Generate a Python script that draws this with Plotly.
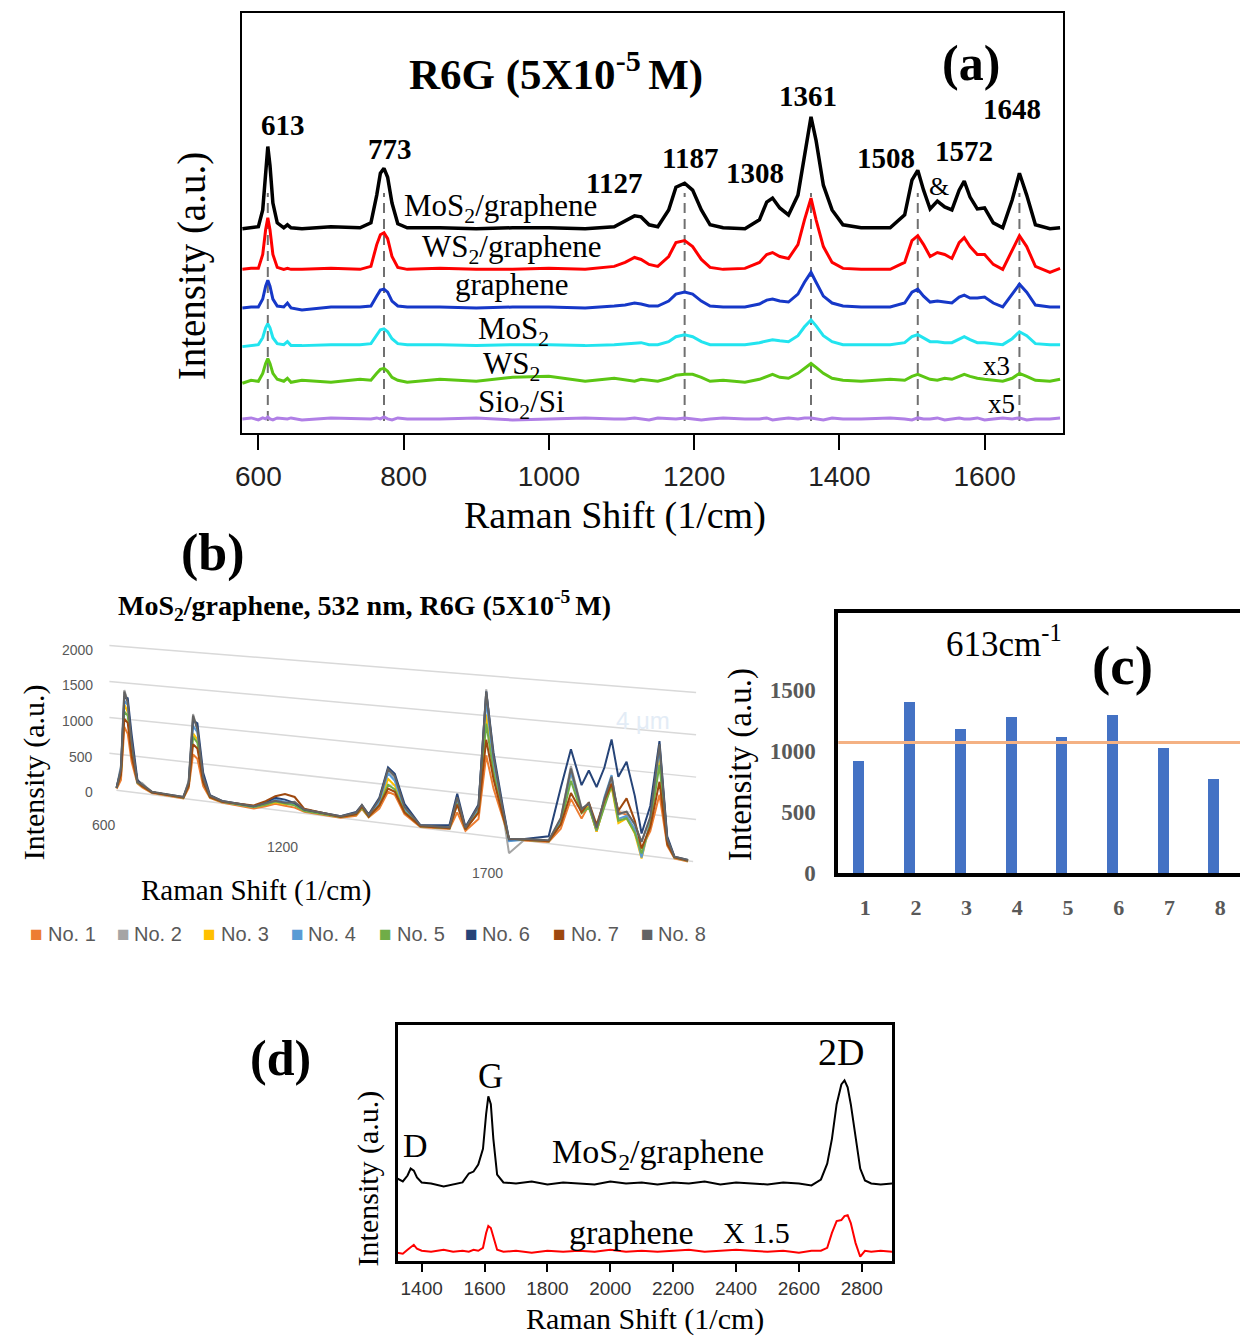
import plotly.graph_objects as go

W, H = 1240, 1343
SERIF = "Liberation Serif, Times New Roman, serif"
SANS = "Liberation Sans, Arial, sans-serif"

# ---------------- Panel (a): R6G spectra on different substrates ----------------
xa = [578, 590, 600, 606, 610, 613, 616, 620, 626, 635, 640, 645, 660, 700, 740,
      755, 763, 768, 773, 778, 784, 792, 805, 850, 900, 950, 1000, 1050, 1090, 1105,
      1118, 1127, 1138, 1150, 1165, 1175, 1187, 1198, 1210, 1222, 1240, 1270, 1290, 1300, 1308,
      1318, 1330, 1343, 1352, 1361, 1368, 1378, 1390, 1405, 1430, 1470, 1490, 1500, 1508, 1516,
      1525, 1535, 1545, 1555, 1565, 1572, 1580, 1590, 1600, 1612, 1625, 1638, 1648, 1658, 1670,
      1690, 1704]
a_mos2_graphene = [206, 207, 208, 225, 260, 289, 270, 232, 212, 207, 210, 207, 206, 208, 207,
                   212, 240, 262, 267, 258, 232, 211, 207, 207, 206, 207, 207, 206, 208, 214,
                   219, 218, 210, 208, 225, 248, 252, 245, 225, 210, 207, 206, 215, 233, 237,
                   227, 220, 240, 280, 319, 295, 250, 225, 210, 207, 207, 220, 255, 265, 245,
                   226, 234, 228, 225, 245, 254, 238, 226, 227, 212, 207, 235, 262, 240, 210,
                   206, 207]
a_ws2_graphene = [165, 166, 166, 180, 205, 217, 205, 180, 167, 165, 166, 165, 165, 166, 165,
                  168, 190, 200, 202, 196, 178, 167, 165, 166, 165, 165, 166, 165, 168, 172,
                  177, 175, 170, 168, 178, 192, 194, 188, 175, 167, 165, 166, 172, 180, 182,
                  178, 176, 190, 215, 237, 215, 188, 172, 166, 165, 165, 172, 194, 199, 190,
                  178, 182, 180, 176, 192, 197, 188, 180, 180, 170, 165, 185, 199, 188, 168,
                  162, 166]
a_graphene = [126, 127, 127, 135, 148, 154, 148, 135, 128, 127, 131, 126, 124, 127, 127,
              128, 138, 144, 145, 142, 133, 128, 127, 127, 126, 127, 127, 126, 128, 129,
              131, 130, 128, 128, 133, 140, 142, 140, 133, 128, 127, 127, 130, 134, 135,
              133, 132, 140, 152, 162, 152, 138, 131, 128, 127, 127, 131, 142, 145, 138,
              132, 133, 132, 131, 137, 139, 136, 136, 137, 131, 127, 140, 150, 142, 129,
              127, 127]
a_mos2 = [87, 88, 89, 96, 106, 110, 106, 96, 90, 89, 92, 88, 88, 89, 89,
          90, 99, 104, 105, 102, 95, 90, 89, 89, 88, 89, 89, 88, 89, 90,
          91, 91, 89, 89, 92, 97, 99, 97, 92, 89, 89, 89, 91, 93, 94,
          93, 92, 98, 107, 114, 108, 98, 92, 89, 89, 89, 91, 97, 99, 96,
          92, 92, 91, 91, 95, 97, 94, 91, 91, 90, 89, 95, 102, 98, 90,
          89, 89]
a_ws2 = [50, 53, 52, 60, 70, 75, 70, 60, 54, 52, 55, 51, 53, 51, 54,
         53, 60, 64, 65, 62, 56, 53, 51, 54, 52, 56, 57, 52, 55, 53,
         52, 54, 53, 52, 55, 58, 59, 59, 56, 52, 53, 51, 54, 57, 59,
         56, 55, 60, 65, 70, 66, 60, 55, 53, 52, 54, 53, 57, 59, 57,
         54, 53, 55, 54, 57, 59, 57, 55, 54, 53, 52, 55, 60, 57, 53,
         52, 54]
a_sio2 = [14, 15, 13, 15, 14, 16, 14, 13, 15, 14, 14, 15, 13, 15, 14,
          14, 15, 14, 16, 14, 13, 15, 14, 14, 15, 13, 14, 15, 14, 14,
          15, 14, 13, 15, 14, 14, 15, 14, 13, 14, 15, 14, 14, 15, 13,
          14, 15, 14, 15, 15, 14, 13, 15, 14, 14, 15, 14, 13, 15, 14,
          14, 15, 13, 14, 15, 14, 14, 15, 13, 14, 15, 14, 15, 13, 14,
          14, 15]
a_colors = ["#b07fe6", "#5cc614", "#22e4ef", "#1638c8", "#ff0000", "#000000"]
a_widths = [3, 3, 3, 3, 3, 3.5]
a_series = [a_sio2, a_ws2, a_mos2, a_graphene, a_ws2_graphene, a_mos2_graphene]
a_dashed_peaks = [613, 773, 1187, 1361, 1508, 1648]
a_peak_labels = ["613", "773", "1127", "1187", "1308", "1361", "1508", "1572", "1648"]
a_ticks = [600, 800, 1000, 1200, 1400, 1600]

# ---------------- Panel (b): eight spots on MoS2/graphene ----------------
xb = [597, 606, 613, 620, 628, 640, 650, 670,
      735, 746, 755, 764, 776, 790, 815,
      880, 905, 925, 945, 965, 985,
      1060, 1092, 1104, 1118, 1140, 1158, 1172, 1192, 1225,
      1285, 1301, 1318, 1345, 1361, 1376, 1395, 1408, 1440,
      1490, 1515, 1536, 1558, 1573, 1589, 1605, 1620, 1634, 1651, 1668, 1682,
      1700, 1719, 1735, 1750, 1778]
b_no1 = [20, 150, 890, 800, 420, 130, 80, 20,
         0, 150, 613, 560, 200, 50, 10,
         -20, 30, 80, 70, 60, 20,
         0, 50, 150, 50, 180, 409, 380, 150, 10,
         30, 250, 30, 200, 1004, 600, 250, 0, 0,
         20, 200, 579, 353, 526, 214, 560, 817, 487, 463, 250, 78,
         300, 746, 150, 10, -10]
b_no2 = [30, 350, 1400, 1250, 650, 160, 140, 30,
         10, 250, 1160, 950, 300, 70, 20,
         0, 60, 110, 90, 140, 40,
         10, 80, 190, 70, 280, 680, 600, 220, 20,
         50, 430, 60, 350, 1830, 950, 330, -180, 10,
         30, 320, 980, 480, 520, 250, 600, 880, 450, 500, 350, 160,
         450, 1320, 220, 20, 0]
b_no3 = [30, 250, 1200, 1100, 600, 170, 100, 30,
         10, 200, 900, 820, 280, 60, 20,
         0, 50, 100, 90, 110, 40,
         10, 70, 170, 60, 230, 576, 500, 190, 20,
         40, 380, 50, 300, 1515, 850, 300, -20, 10,
         30, 280, 902, 430, 526, 214, 560, 780, 350, 420, 250, -42,
         400, 1205, 200, 20, 0]
b_no4 = [30, 320, 1250, 1200, 650, 140, 120, 30,
         10, 220, 1000, 920, 300, 70, 20,
         0, 60, 140, 120, 100, 40,
         10, 80, 180, 70, 260, 650, 560, 210, 20,
         40, 420, 50, 330, 1700, 900, 330, -30, 10,
         30, 300, 900, 450, 550, 230, 640, 921, 400, 450, 300, -30,
         420, 1300, 200, 20, 0]
b_no5 = [30, 230, 1100, 1050, 550, 140, 100, 30,
         10, 180, 850, 780, 260, 60, 20,
         0, 50, 110, 100, 90, 30,
         10, 70, 160, 60, 220, 500, 450, 180, 20,
         40, 360, 50, 290, 1400, 800, 290, 0, 10,
         30, 260, 800, 420, 500, 230, 540, 800, 380, 420, 260, 20,
         380, 1100, 180, 20, 0]
b_no6 = [40, 280, 1300, 1290, 800, 180, 110, 30,
         20, 200, 1076, 1040, 380, 90, 30,
         10, 80, 160, 150, 120, 50,
         20, 100, 200, 90, 320, 724, 650, 280, 30,
         80, 484, 80, 380, 1800, 1050, 400, -10, 20,
         90, 700, 1184, 760, 948, 756, 1000, 1351, 908, 1100, 700, 258,
         600, 1384, 260, 30, 10]
b_no7 = [30, 220, 1000, 950, 500, 150, 100, 30,
         10, 180, 750, 700, 250, 60, 20,
         20, 100, 180, 223, 200, 60,
         10, 70, 180, 60, 220, 450, 420, 170, 20,
         40, 350, 50, 280, 1200, 720, 280, 0, 10,
         30, 250, 650, 430, 560, 300, 600, 817, 500, 660, 400, 80,
         350, 900, 170, 20, 0]
b_no8 = [30, 300, 1380, 1230, 700, 150, 120, 40,
         20, 230, 1140, 960, 320, 80, 30,
         10, 70, 120, 110, 130, 50,
         20, 90, 200, 80, 300, 700, 620, 240, 30,
         50, 440, 70, 360, 1800, 1000, 360, 0, 20,
         40, 330, 950, 470, 550, 260, 620, 900, 460, 500, 360, 158,
         470, 1350, 230, 30, 10]
b_names = ["No. 1", "No. 2", "No. 3", "No. 4", "No. 5", "No. 6", "No. 7", "No. 8"]
b_colors = ["#ED7D31", "#A5A5A5", "#FFC000", "#5B9BD5", "#70AD47", "#264478", "#9E480E", "#636363"]
b_series = [b_no1, b_no2, b_no3, b_no4, b_no5, b_no6, b_no7, b_no8]
b_grid_values = [0, 500, 1000, 1500, 2000]
b_ytick_labels = ["0", "500", "1000", "1500", "2000"]
b_xtick_labels = ["600", "1200", "1700"]

# ---------------- Panel (c): 613 cm-1 intensity per spot ----------------
c_spots = [1, 2, 3, 4, 5, 6, 7, 8]
c_intensity = [919, 1397, 1181, 1276, 1114, 1289, 1019, 770]
c_mean_line = 1068

# ---------------- Panel (d): graphene bands ----------------
xd = [1322, 1340, 1355, 1365, 1375, 1385, 1400, 1430, 1470, 1500, 1530, 1550, 1565, 1580, 1595,
      1605, 1612, 1620, 1628, 1640, 1660, 1700, 1750, 1800, 1850, 1900, 1950, 2000, 2050, 2100,
      2150, 2200, 2250, 2300, 2350, 2400, 2450, 2500, 2550, 2600, 2640, 2670, 2690, 2705, 2720,
      2735, 2745, 2755, 2765, 2780, 2795, 2810, 2830, 2860, 2898]
d_mos2_graphene = [83, 80, 86, 93, 91, 84, 79, 78, 75, 77, 79, 88, 90, 97, 113,
                   148, 166, 158, 123, 87, 79, 78, 80, 77, 79, 78, 77, 80, 78, 79,
                   77, 79, 78, 80, 77, 79, 78, 77, 79, 78, 76, 82, 98, 123, 158,
                   178, 182, 175, 158, 123, 93, 81, 78, 77, 78]
d_graphene = [8, 7, 11, 14, 16, 12, 10, 9, 11, 9, 10, 9, 11, 10, 13,
              28, 35, 33, 23, 11, 9, 10, 8, 10, 9, 10, 9, 11, 9, 10,
              9, 10, 11, 9, 10, 11, 10, 9, 10, 8, 10, 10, 13, 28, 40,
              41, 45, 46, 38, 18, 4, 10, 9, 10, 9]
d_ticks = [1400, 1600, 1800, 2000, 2200, 2400, 2600, 2800]


def P(px, py):
    return px / W, 1 - py / H


def ann(text, px, py, size, bold=False, family=SERIF, color="black", angle=0,
        xanchor="center", yanchor="middle"):
    x, y = P(px, py)
    return dict(text=text, x=x, y=y, xref="paper", yref="paper", showarrow=False,
                font=dict(family=family, size=size, color=color,
                          weight="bold" if bold else "normal"),
                textangle=angle, xanchor=xanchor, yanchor=yanchor)


# projection for the pseudo-3D Excel panel (b): intensity -> tilted screen position
B_P0, B_SLOPE = 118, 0.4866


def proj_b(xs, vals):
    out = []
    for x, v in zip(xs, vals):
        p = B_P0 + (x - 613) * B_SLOPE
        y0 = 797 + 0.1241 * (p - 103)
        s = (36.3 + 6.45 * (p - 103) / 590) / 500
        out.append(-(y0 - s * v))
    return out


def b_x_at(p):
    return 613 + (p - B_P0) / B_SLOPE


fig = go.Figure()

# ---- panel a traces
for vals, col, lw in zip(a_series, a_colors, a_widths):
    fig.add_trace(go.Scatter(x=xa, y=vals, mode="lines", line=dict(color=col, width=lw),
                             xaxis="x", yaxis="y", showlegend=False, hoverinfo="skip"))

# ---- panel b grid + traces
for g in b_grid_values:
    gx = [b_x_at(110 if g == 0 else 103), b_x_at(690 if g == 0 else 693)]
    fig.add_trace(go.Scatter(x=gx, y=proj_b(gx, [g, g]), mode="lines",
                             line=dict(color="#d9d9d9", width=1.5),
                             xaxis="x2", yaxis="y2", showlegend=False, hoverinfo="skip"))
for vals, col in zip(b_series, b_colors):
    fig.add_trace(go.Scatter(x=xb, y=proj_b(xb, vals), mode="lines",
                             line=dict(color=col, width=2),
                             xaxis="x2", yaxis="y2", showlegend=False, hoverinfo="skip"))

# ---- panel c
fig.add_trace(go.Bar(x=c_spots, y=c_intensity, width=0.216, offset=-0.226,
                     marker=dict(color="#4472C4", line=dict(width=0)),
                     xaxis="x3", yaxis="y3", showlegend=False, hoverinfo="skip"))

# ---- panel d
fig.add_trace(go.Scatter(x=xd, y=d_graphene, mode="lines", line=dict(color="#ff0000", width=2),
                         xaxis="x4", yaxis="y4", showlegend=False, hoverinfo="skip"))
fig.add_trace(go.Scatter(x=xd, y=d_mos2_graphene, mode="lines", line=dict(color="#000000", width=2),
                         xaxis="x4", yaxis="y4", showlegend=False, hoverinfo="skip"))

shapes = []
for pk in a_dashed_peaks:
    shapes.append(dict(type="line", xref="x", yref="y", x0=pk, x1=pk, y0=12, y1=242,
                       line=dict(color="#707070", width=2, dash="10px,6px"), layer="below"))
shapes.append(dict(type="line", xref="x3 domain", yref="y3", x0=0, x1=1,
                   y0=c_mean_line, y1=c_mean_line,
                   line=dict(color="#F4B183", width=3), layer="above"))

annotations = []
# panel a texts
annotations.append(ann("R6G (5X10<sup>-5 </sup>M)", 552, 72, 43, bold=True))
annotations.append(ann("(a)", 969, 64, 50, bold=True))
a_label_pos = [(278, 126), (385, 150), (610, 185), (687, 160), (752, 175), (806, 97),
               (884, 160), (962, 152), (1011, 110)]
for t, (px, py) in zip(a_peak_labels, a_label_pos):
    annotations.append(ann(t, px, py, 29, bold=True))
annotations.append(ann("&", 937, 188, 26))
a_curve_texts = [("MoS<sub>2</sub>/graphene", 496, 210), ("WS<sub>2</sub>/graphene", 508, 251),
                 ("graphene", 508, 287), ("MoS<sub>2</sub>", 509, 334), ("WS<sub>2</sub>", 507, 370),
                 ("Sio<sub>2</sub>/Si", 517, 408)]
for t, px, py in a_curve_texts:
    annotations.append(ann(t, px, py, 31))
annotations.append(ann("x3", 995, 370, 27))
annotations.append(ann("x5", 1000, 408, 27))
annotations.append(ann("Raman Shift (1/cm)", 611, 521, 38))
annotations.append(ann("Intensity (a.u.)", 186, 268, 39, angle=-90))

# panel b texts
annotations.append(ann("(b)", 207, 558, 52, bold=True))
annotations.append(ann("MoS<sub>2</sub>/graphene, 532 nm, R6G (5X10<sup>-5 </sup>M)", 360, 611, 28, bold=True))
annotations.append(ann("Intensity (a.u.)", 28, 780, 30, angle=-90))
annotations.append(ann("Raman Shift (1/cm)", 250, 899, 29))
annotations.append(ann("4 μm", 640, 728, 24, family=SANS, color="#e3ecf6"))
for t, py in zip(b_ytick_labels, [800, 764, 728, 692, 656]):
    annotations.append(ann(t, 89, py, 14, family=SANS, color="#595959", xanchor="right"))
for t, (px, py) in zip(b_xtick_labels, [(98, 833), (277, 855), (483, 882)]):
    annotations.append(ann(t, px, py, 14, family=SANS, color="#595959"))
leg_x = [30, 117, 204, 292, 381, 467, 556, 644]
for name, col, lx in zip(b_names, b_colors, leg_x):
    annotations.append(ann("■", lx, 943, 21, family=SANS, color=col))
    annotations.append(ann(name, lx + 9, 943, 20, family=SANS, color="#595959", xanchor="left"))

# panel c texts
annotations.append(ann("613cm<sup>-1</sup>", 1003, 648, 35))
annotations.append(ann("(c)", 1122, 672, 55, bold=True))
annotations.append(ann("Intensity (a.u.)", 738, 772, 33, angle=-90))

# panel d texts
annotations.append(ann("(d)", 275, 1068, 50, bold=True))
annotations.append(ann("D", 411, 1157, 34))
annotations.append(ann("G", 486, 1087, 35))
annotations.append(ann("2D", 839, 1062, 38))
annotations.append(ann("MoS<sub>2</sub>/graphene", 655, 1165, 34))
annotations.append(ann("graphene", 628, 1245, 34))
annotations.append(ann("X 1.5", 754, 1245, 30))
annotations.append(ann("Intensity (a.u.)", 364, 1190, 30, angle=-90))
annotations.append(ann("Raman Shift (1/cm)", 642, 1332, 30))

no_axis = dict(visible=False, showgrid=False, zeroline=False)

fig.update_layout(
    width=W, height=H, margin=dict(l=0, r=0, t=0, b=0),
    paper_bgcolor="white", plot_bgcolor="white", showlegend=False,
    shapes=shapes, annotations=annotations, bargap=0,
    xaxis=dict(domain=[236 / W, 1062 / W], range=[577, 1708], anchor="y",
               showline=True, mirror=True, linecolor="black", linewidth=2,
               ticks="outside", ticklen=15, tickwidth=2, tickcolor="black",
               tickvals=a_ticks, ticklabelstandoff=3,
               tickfont=dict(family=SANS, size=28, color="#222"),
               showgrid=False, zeroline=False),
    yaxis=dict(domain=[1 - 437 / H, 1 - 13 / H], range=[0, 424], anchor="x",
               showline=True, mirror=True, linecolor="black", linewidth=2,
               showticklabels=False, ticks="", showgrid=False, zeroline=False),
    xaxis2=dict(domain=[95 / W, 700 / W], range=[b_x_at(95), b_x_at(700)], anchor="y2", **no_axis),
    yaxis2=dict(domain=[1 - 890 / H, 1 - 630 / H], range=[-890, -630], anchor="x2", **no_axis),
    xaxis3=dict(domain=[836 / W, 1.0], range=[0.47, 8.39], anchor="y3",
                showline=True, mirror=True, linecolor="black", linewidth=4,
                ticks="", tickvals=c_spots, ticklabelstandoff=12,
                tickfont=dict(family=SERIF, size=22, color="#595959", weight="bold"),
                showgrid=False, zeroline=False),
    yaxis3=dict(domain=[1 - 881.5 / H, 1 - 619 / H], range=[0, 2127], anchor="x3",
                showline=True, mirror=False, linecolor="black", linewidth=4,
                ticks="", tickvals=[0, 500, 1000, 1500], ticklabelstandoff=14,
                tickfont=dict(family=SERIF, size=23, color="#595959", weight="bold"),
                showgrid=False, zeroline=False),
    xaxis4=dict(domain=[393 / W, 890 / W], range=[1324, 2896], anchor="y4",
                showline=True, mirror=True, linecolor="black", linewidth=2.5,
                ticks="outside", ticklen=9, tickwidth=1.5, tickcolor="black",
                tickvals=d_ticks, tickfont=dict(family=SANS, size=19, color="#333"),
                showgrid=False, zeroline=False),
    yaxis4=dict(domain=[1 - 1273 / H, 1 - 1035 / H], range=[0, 238], anchor="x4",
                showline=True, mirror=True, linecolor="black", linewidth=2.5,
                showticklabels=False, ticks="", showgrid=False, zeroline=False),
)

fig.write_html("out.html")
